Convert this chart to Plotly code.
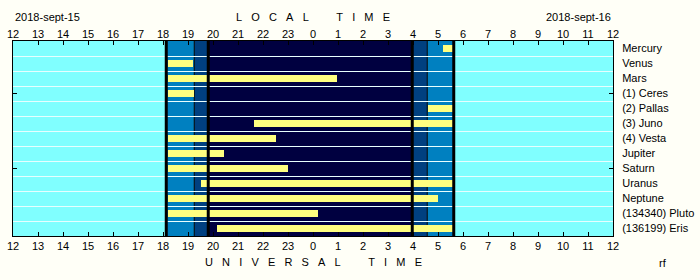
import plotly.graph_objects as go

# ---------------- data ----------------
bodies = ["Mercury", "Venus", "Mars", "(1) Ceres", "(2) Pallas", "(3) Juno",
          "(4) Vesta", "Jupiter", "Saturn", "Uranus", "Neptune",
          "(134340) Pluto", "(136199) Eris"]
# visibility windows, clock hours (local time)
vis_start = [5.2, 18.2, 18.2, 18.2, 4.6, 21.64, 18.2, 18.2, 18.2, 19.52, 18.2, 18.2, 20.16]
vis_end = [5.63, 19.2, 0.96, 19.24, 5.63, 5.63, 22.5, 20.43, 23.0, 5.63, 5.0, 0.19, 5.63]

# sun phases (clock hours): sunset, civil dusk, nautical dusk, nautical dawn, civil dawn, sunrise
sunset, civil_dusk, naut_dusk = 18.13, 19.25, 19.81
naut_dawn, civil_dawn, sunrise = 3.97, 4.57, 5.63

hour_ticks = list(range(12, 37))
hour_labels = [str(h % 24) for h in hour_ticks]

date_left = "2018-sept-15"
date_right = "2018-sept-16"

# colours
C_DAY = "#80FFFF"
C_CIVIL = "#0080C0"
C_NAUT = "#004080"
C_NIGHT = "#000040"
C_BAR = "#FFFF80"
BG = "#FFFFF7"
FONT = "Liberation Sans, Arial, sans-serif"


def cont(h):
    """clock hour -> continuous axis value 12..36"""
    return h + 24 if h < 12 else h


rows = list(range(1, len(bodies) + 1))
starts = [cont(s) for s in vis_start]
ends = [cont(e) for e in vis_end]
durs = [e - s for s, e in zip(starts, ends)]

fig = go.Figure()
fig.add_trace(go.Bar(
    y=rows, x=durs, base=starts, orientation="h",
    marker=dict(color=C_BAR, line=dict(width=0)),
    width=0.47, showlegend=False, hoverinfo="skip"))
fig.add_trace(go.Scatter(x=[12, 36], y=[1, 1], xaxis="x2", mode="none",
                         showlegend=False, hoverinfo="skip"))
fig.add_trace(go.Scatter(x=[12, 36], y=[1, 1], yaxis="y2", mode="none",
                         showlegend=False, hoverinfo="skip"))

# background bands
bands = [
    (12, cont(sunset), C_DAY),
    (cont(sunset), cont(civil_dusk), C_CIVIL),
    (cont(civil_dusk), cont(naut_dusk), C_NAUT),
    (cont(naut_dusk), cont(naut_dawn), C_NIGHT),
    (cont(naut_dawn), cont(civil_dawn), C_NAUT),
    (cont(civil_dawn), cont(sunrise), C_CIVIL),
    (cont(sunrise), 36, C_DAY),
]
shapes = []
for x0, x1, c in bands:
    shapes.append(dict(type="rect", xref="x", yref="paper", x0=x0, x1=x1, y0=0, y1=1,
                       fillcolor=c, line=dict(width=0), layer="below"))
for h in (civil_dusk, civil_dawn):
    shapes.append(dict(type="line", xref="x", yref="paper", x0=cont(h), x1=cont(h), y0=0, y1=1,
                       line=dict(color="black", width=1), layer="below"))
for h in (sunset, naut_dusk, naut_dawn, sunrise):
    shapes.append(dict(type="line", xref="x", yref="paper", x0=cont(h), x1=cont(h), y0=0, y1=1,
                       line=dict(color="black", width=3), layer="above"))

tickfont = dict(family=FONT, size=11, color="black")
xcommon = dict(range=[12, 36], tickmode="array", tickvals=hour_ticks, ticktext=hour_labels,
               ticks="inside", ticklen=4, tickcolor="black", showgrid=False, zeroline=False,
               tickfont=tickfont, fixedrange=True, automargin=False)

fig.update_layout(
    width=700, height=280,
    margin=dict(l=13, r=87, t=41, b=44, autoexpand=False),
    paper_bgcolor=BG, plot_bgcolor=C_DAY,
    bargap=0,
    shapes=shapes,
    xaxis=dict(**xcommon, side="bottom", showline=True, linecolor="black", linewidth=1, mirror=True),
    xaxis2=dict(**xcommon, side="top", overlaying="x", matches="x", showline=False),
    yaxis=dict(range=[13.5, 0.5], tickmode="array", tickvals=rows, ticktext=bodies,
               side="right", ticks="", showgrid=False, zeroline=False, automargin=False,
               showline=True, linecolor="black", linewidth=1, mirror=True,
               tickfont=tickfont, ticklabelstandoff=6,
               minor=dict(tickmode="linear", tick0=0.5, dtick=1, showgrid=True,
                          gridcolor="#E8FFFF", gridwidth=1, ticks="")),
    yaxis2=dict(range=[13.5, 0.5], overlaying="y", side="left", tickmode="array",
                tickvals=[4, 9], ticks="inside", ticklen=4, tickcolor="black",
                showticklabels=False, showgrid=False, zeroline=False, showline=False,
                mirror="ticks", automargin=False),
    annotations=[
        dict(text=date_left, xref="paper", yref="paper", x=0, y=1, yshift=24,
             xanchor="left", yanchor="middle", showarrow=False, font=tickfont),
        dict(text=date_right, xref="paper", yref="paper", x=1, y=1, yshift=24,
             xanchor="right", yanchor="middle", showarrow=False, font=tickfont),
        dict(text="\u00a0\u00a0\u00a0".join("LOCAL") + "\u00a0" * 9 + "\u00a0\u00a0\u00a0".join("TIME"),
             xref="paper", yref="paper", x=0.5, y=1, yshift=24,
             xanchor="center", yanchor="middle", showarrow=False, font=tickfont),
        dict(text="\u00a0\u00a0\u00a0".join("UNIVERSAL") + "\u00a0" * 9 + "\u00a0\u00a0\u00a0".join("TIME"),
             xref="paper", yref="paper", x=0.5, y=0, yshift=-26,
             xanchor="center", yanchor="middle", showarrow=False, font=tickfont),
        dict(text="rf", xref="paper", yref="paper", x=1, y=0, xshift=50, yshift=-27,
             xanchor="center", yanchor="middle", showarrow=False, font=tickfont),
    ],
)

fig.write_html("out.html")
